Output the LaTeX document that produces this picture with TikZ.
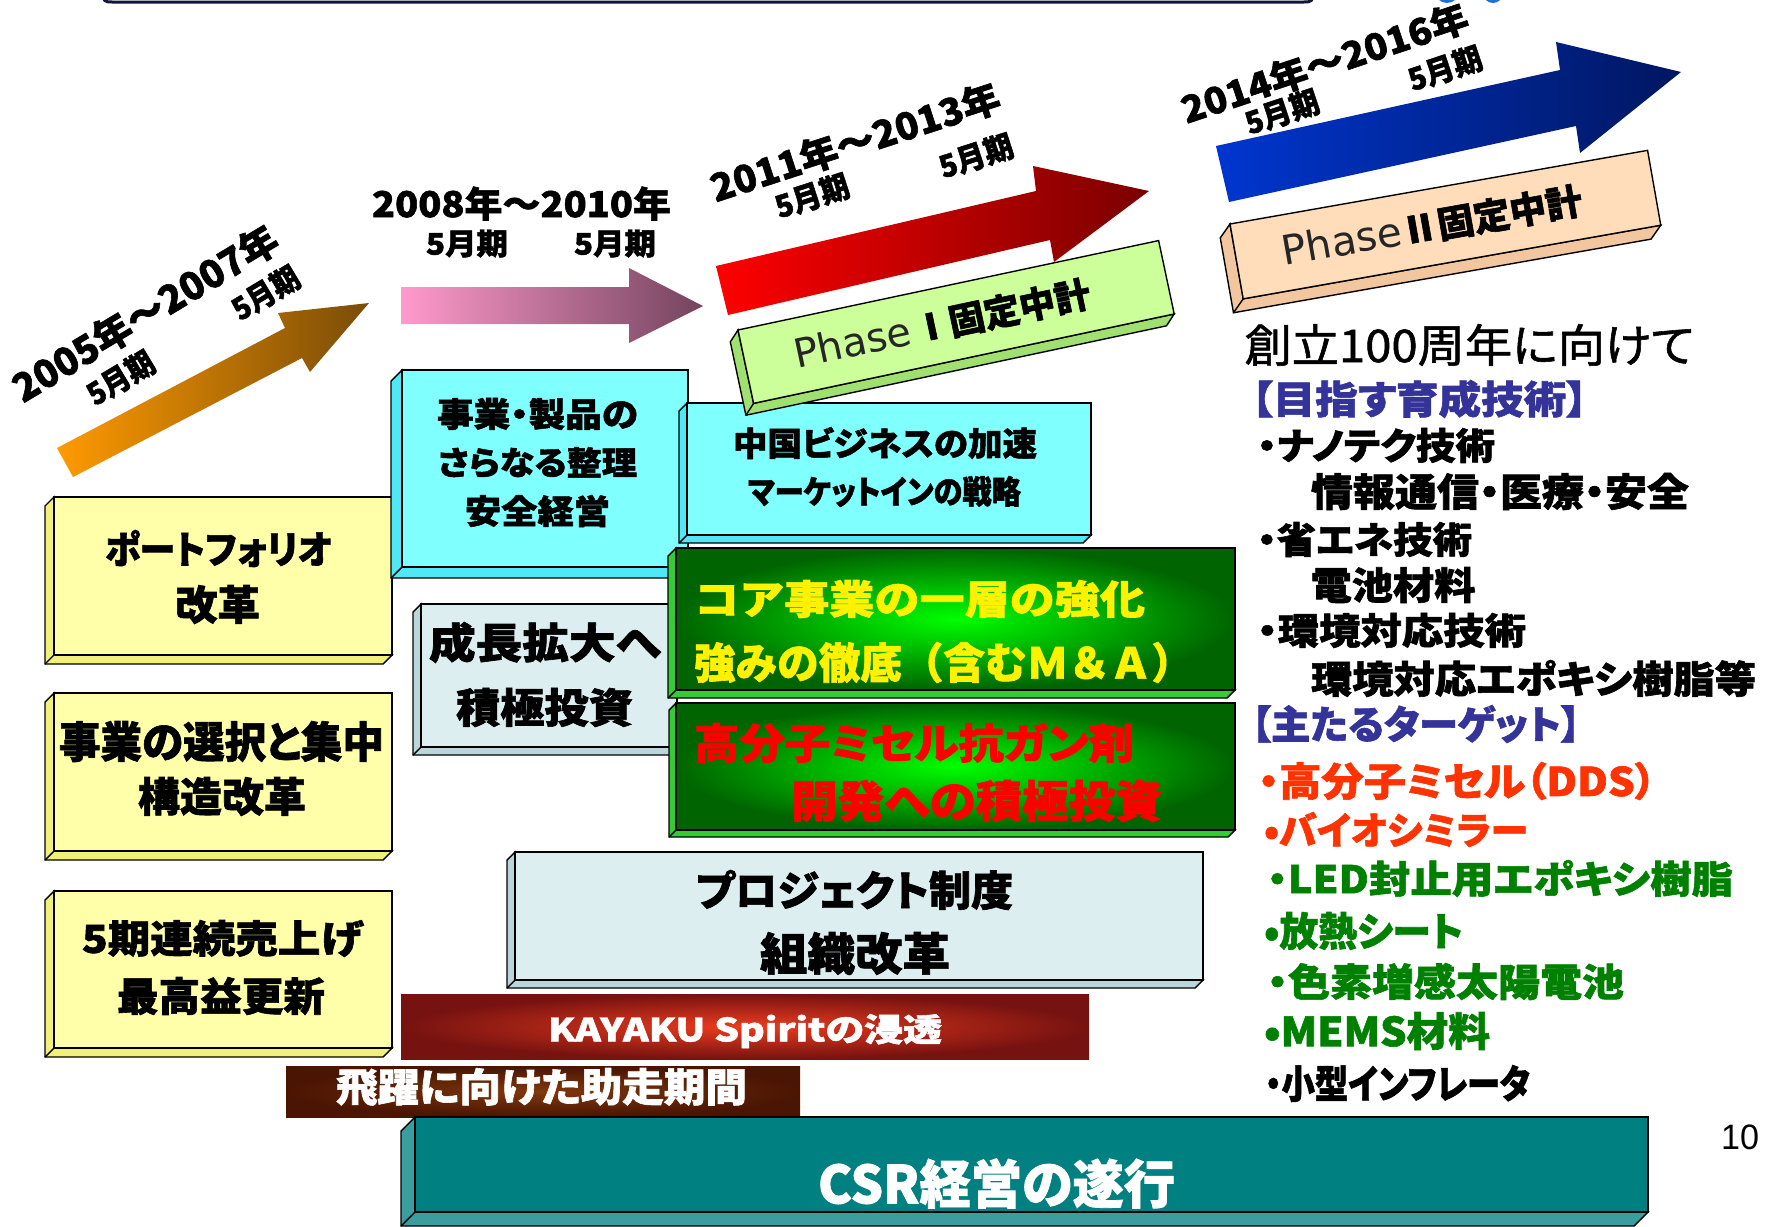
\documentclass[tikz,border=0pt]{standalone}
\usepackage{fontspec}
\usepackage{graphicx}
\newfontfamily\jp{Noto Sans CJK JP}[RawFeature=+palt, BoldFeatures={FakeBold=1.5}]
\newfontfamily\jpn{Noto Sans CJK JP}[BoldFeatures={FakeBold=1.5}]
\newfontfamily\jpm{Noto Sans CJK JP}[RawFeature=+palt, FakeBold=1.2]
\newfontfamily\dv{DejaVu Sans}
\newfontfamily\ls{Liberation Sans}
\newcommand{\fitbox}[3]{\resizebox*{#1pt}{#2pt}{#3}}
\definecolor{topline}{HTML}{14143A}
\definecolor{logoblue}{HTML}{1E6FD9}
\definecolor{orL}{HTML}{FF9A00}
\definecolor{orR}{HTML}{7A4C08}
\definecolor{pkL}{HTML}{FF9ACC}
\definecolor{pkR}{HTML}{74445E}
\definecolor{rdL}{HTML}{FF0000}
\definecolor{rdR}{HTML}{7A0000}
\definecolor{blL}{HTML}{0036D0}
\definecolor{blR}{HTML}{001660}
\definecolor{yfront}{HTML}{FFFFAA}
\definecolor{ybevel}{HTML}{F0F07A}
\definecolor{cfront}{HTML}{80FFFF}
\definecolor{cbevel}{HTML}{50E8F4}
\definecolor{gfront}{HTML}{DDEEF0}
\definecolor{gbevel}{HTML}{BBD6DA}
\definecolor{p1front}{HTML}{CCFF99}
\definecolor{p1bevel}{HTML}{A0E070}
\definecolor{p2front}{HTML}{FFDDBB}
\definecolor{p2bevel}{HTML}{F2C7A0}
\definecolor{grin}{HTML}{00FF00}
\definecolor{grout}{HTML}{006400}
\definecolor{grbevel}{HTML}{33CC33}
\definecolor{teal1}{HTML}{008080}
\definecolor{teal2}{HTML}{3A9E9E}
\definecolor{kyin}{HTML}{EC3C1E}
\definecolor{kyout}{HTML}{761210}
\definecolor{hyin}{HTML}{80380E}
\definecolor{hyout}{HTML}{4A1502}
\definecolor{tblue}{HTML}{333399}
\definecolor{tred}{HTML}{FF3300}
\definecolor{tgreen}{HTML}{008000}
\newcommand{\bevelpart}[6]{%
  \filldraw[edge, fill=#6] (#1,#2) -- ({#1-#5},{#2+#5}) -- ({#1-#5},{#4+#5}) -- ({#3-#5},{#4+#5}) -- (#3,#4) -- (#1,#4) -- cycle;
  \draw[edge] (#1,#4) -- ({#1-#5},{#4+#5});}
\begin{document}
\begin{tikzpicture}[x=1pt,y=-1pt,
  txt/.style={inner sep=0pt, outer sep=0pt},
  edge/.style={line width=1.4pt, draw=black, line join=miter}]
\useasboundingbox (0,0) rectangle (1769,1226);
\clip (0,0) rectangle (1769,1226);

% top remnants
\draw[line width=3pt, topline] (103,-12) -- (103,-6) .. controls (103,1) and (105,2) .. (112,2) -- (1304,2) .. controls (1311,2) and (1313,1) .. (1313,-6) -- (1313,-12);
\fill[logoblue] (1447,-9.5) circle (12.5);
\fill[logoblue] (1493,-7) circle (10);

% arrows
\shade[left color=orL, right color=orR] (57,448) -- (285,328) -- (278,313) -- (369,303) -- (310,372) -- (302,358) -- (73,477) -- cycle;
\shade[left color=pkL, right color=pkR] (401,287) -- (629,287) -- (629,268) -- (703,306) -- (629,343) -- (629,324) -- (401,324) -- cycle;
\shade[left color=rdL, right color=rdR] (716,266) -- (1036,191) -- (1033,166) -- (1149,191) -- (1054,262) -- (1050,240) -- (728,315) -- cycle;
\shade[left color=blL, right color=blR] (1216,146) -- (1560,70) -- (1556,42) -- (1681,72) -- (1580,153) -- (1576,126) -- (1229,202) -- cycle;

% year labels
\node[txt, rotate=31] (l1) at (145,313) {\fitbox{302}{37}{\jp\bfseries 2005年～2007年}};
\node[txt, rotate=31] (l1a) at (120.5,378) {\fitbox{73}{29}{\jp\bfseries 5月期}};
\node[txt, rotate=31] (l1b) at (265.5,293) {\fitbox{73}{29}{\jp\bfseries 5月期}};
\node[txt] (l2) at (521.5,203.5) {\fitbox{299}{34}{\jp\bfseries 2008年～2010年}};
\node[txt] (l2a) at (467,243.5) {\fitbox{82}{28}{\jp\bfseries 5月期}};
\node[txt] (l2b) at (615,243.5) {\fitbox{82}{28}{\jp\bfseries 5月期}};
\node[txt, rotate=18] (l3) at (855,142) {\fitbox{302}{36}{\jp\bfseries 2011年～2013年}};
\node[txt, rotate=18] (l3a) at (812,196) {\fitbox{76}{29}{\jp\bfseries 5月期}};
\node[txt, rotate=18] (l3b) at (976,156) {\fitbox{76}{29}{\jp\bfseries 5月期}};
\node[txt, rotate=18.5] (l4) at (1324.5,63) {\fitbox{300}{35}{\jp\bfseries 2014年～2016年}};
\node[txt, rotate=18.5] (l4a) at (1282,112) {\fitbox{76}{29}{\jp\bfseries 5月期}};
\node[txt, rotate=18.5] (l4b) at (1445,68.5) {\fitbox{76}{29}{\jp\bfseries 5月期}};

% yellow boxes
\bevelpart{54}{497}{392}{655}{9}{ybevel}
\filldraw[edge, fill=yfront] (54,497) rectangle (392,655);
\node[txt] (y1a) at (218.5,548.5) {\fitbox{227}{37}{\jp\bfseries ポートフォリオ}};
\node[txt] (y1b) at (217.5,604.5) {\fitbox{85}{39}{\jp\bfseries 改革}};
\bevelpart{54}{693}{392}{851}{9}{ybevel}
\filldraw[edge, fill=yfront] (54,693) rectangle (392,851);
\node[txt] (y2a) at (221.5,741.5) {\fitbox{325}{41}{\jp\bfseries 事業の選択と集中}};
\node[txt] (y2b) at (222,796.5) {\fitbox{168}{39}{\jp\bfseries 構造改革}};
\bevelpart{54}{891}{392}{1048}{9}{ybevel}
\filldraw[edge, fill=yfront] (54,891) rectangle (392,1048);
\node[txt] (y3a) at (222.5,938.5) {\fitbox{281}{37}{\jp\bfseries 5期連続売上げ}};
\node[txt] (y3b) at (221,996) {\fitbox{208}{38}{\jp\bfseries 最高益更新}};

% cyan boxes
\bevelpart{402}{370}{688}{567}{11}{cbevel}
\filldraw[edge, fill=cfront] (402,370) rectangle (688,567);
\node[txt] (c1a) at (537.5,414) {\fitbox{201}{32}{\jp\bfseries 事業・製品の}};
\node[txt] (c1b) at (537.5,462.5) {\fitbox{199}{31}{\jp\bfseries さらなる整理}};
\node[txt] (c1c) at (537.5,511) {\fitbox{145}{32}{\jp\bfseries 安全経営}};
\bevelpart{687}{403}{1091}{535}{8}{cbevel}
\filldraw[edge, fill=cfront] (687,403) rectangle (1091,535);
\node[txt] (c2a) at (885,443) {\fitbox{304}{32}{\jp\bfseries 中国ビジネスの加速}};
\node[txt] (c2b) at (884.5,491.5) {\fitbox{273}{31}{\jp\bfseries マーケットインの戦略}};

% Phase I box
\begin{scope}[shift={(738,330)}, rotate=12]
\bevelpart{0}{0}{430}{75}{10}{p1bevel}
\filldraw[edge, fill=p1front] (0,0) rectangle (430,75);
\end{scope}
\node[txt, rotate=12] (p1t) at (942,324) {\resizebox{302pt}{!}{{\dv\fontsize{41}{41}\selectfont\color{black!85}Phase} {\jp\bfseries\fontsize{37}{37}\selectfont Ⅰ固定中計}}};

% Phase II box
\begin{scope}[shift={(1230,224)}, rotate=10]
\bevelpart{0}{0}{424}{76}{12}{p2bevel}
\filldraw[edge, fill=p2front] (0,0) rectangle (424,76);
\end{scope}
\node[txt, rotate=10] (p2t) at (1432,226) {\resizebox{304pt}{!}{{\dv\fontsize{41}{41}\selectfont\color{black!85}Phase}{\jp\bfseries\fontsize{37}{37}\selectfont Ⅱ固定中計}}};

% grey box
\bevelpart{421}{604}{677}{747}{8}{gbevel}
\filldraw[edge, fill=gfront] (421,604) rectangle (677,747);
\node[txt] (g1a) at (545,642.5) {\fitbox{232}{41}{\jp\bfseries 成長拡大へ}};
\node[txt] (g1b) at (544.5,707.5) {\fitbox{177}{39}{\jp\bfseries 積極投資}};

% green boxes
\bevelpart{676}{548}{1235}{690}{8}{grbevel}
\shade[inner color=grin, outer color=grout] (676,548) rectangle (1235,690);
\draw[edge] (676,548) rectangle (1235,690);
\node[txt, text=yellow] (gr1a) at (919.5,599) {\fitbox{451}{38}{\jpn\bfseries コア事業の一層の強化}};
\node[txt, text=yellow] (gr1b) at (943.5,662.5) {\fitbox{499}{41}{\jpn\bfseries 強みの徹底（含むＭ＆Ａ）}};
\bevelpart{676}{703}{1235}{830}{7}{grbevel}
\shade[inner color=grin, outer color=grout] (676,703) rectangle (1235,830);
\draw[edge] (676,703) rectangle (1235,830);
\node[txt, text=red] (gr2a) at (914,743) {\fitbox{440}{40}{\jp\bfseries 高分子ミセル抗ガン剤}};
\node[txt, text=red] (gr2b) at (976.5,801) {\fitbox{371}{42}{\jp\bfseries 開発への積極投資}};

% project box
\bevelpart{515}{852}{1203}{980}{8}{gbevel}
\filldraw[edge, fill=gfront] (515,852) rectangle (1203,980);
\node[txt] (pr1) at (854.5,890) {\fitbox{317}{40}{\jp\bfseries プロジェクト制度}};
\node[txt] (pr2) at (855,953.5) {\fitbox{190}{43}{\jp\bfseries 組織改革}};

% bars
\shade[inner color=kyin, outer color=kyout] (401,994) rectangle (1089,1059);
\node[txt, text=white] (ky) at (745,1031) {\fitbox{394}{34}{\jp\bfseries KAYAKU Spiritの浸透}};
\shade[inner color=hyin, outer color=hyout] (286,1066) rectangle (800,1117);
\node[txt, text=white] (hy) at (541.5,1087) {\fitbox{411}{38}{\jp\bfseries 飛躍に向けた助走期間}};

% CSR box
\bevelpart{415}{1117}{1648}{1212}{14}{teal2}
\filldraw[edge, fill=teal1] (415,1117) rectangle (1648,1212);
\node[txt, text=white] (csr) at (996.5,1183.5) {\fitbox{357}{50}{\jp\bfseries CSR経営の遂行}};

% right text block
\node[txt] (r0) at (1469.5,345) {\fitbox{450}{42}{\jpm 創立100周年に向けて}};
\node[txt, text=tblue] (r1) at (1419.5,399) {\fitbox{336}{38}{\jp\bfseries 【目指す育成技術】}};
\node[txt] (r2) at (1376,445.5) {\fitbox{238}{35}{\jp\bfseries ・ナノテク技術}};
\node[txt] (r3) at (1500,491.5) {\fitbox{378}{37}{\jp\bfseries 情報通信・医療・安全}};
\node[txt] (r4) at (1364.5,539.5) {\fitbox{215}{35}{\jp\bfseries ・省エネ技術}};
\node[txt] (r5) at (1393,585) {\fitbox{165}{36}{\jp\bfseries 電池材料}};
\node[txt] (r6) at (1391.5,630.5) {\fitbox{269}{35}{\jp\bfseries ・環境対応技術}};
\node[txt] (r7) at (1533.5,678.5) {\fitbox{445}{37}{\jp\bfseries 環境対応エポキシ樹脂等}};
\node[txt, text=tblue] (r8) at (1416,724) {\fitbox{329}{38}{\jp\bfseries 【主たるターゲット】}};
\node[txt, text=tred] (r9) at (1457,781) {\fitbox{398}{38}{\jp\bfseries ・高分子ミセル（DDS）}};
\node[txt, text=tred] (r10) at (1396,829.5) {\fitbox{264}{35}{\jp\bfseries •バイオシミラー}};
\node[txt, text=tgreen] (r11) at (1500,878.5) {\fitbox{466}{37}{\jp\bfseries ・LED封止用エポキシ樹脂}};
\node[txt, text=tgreen] (r12) at (1363.5,931) {\fitbox{199}{38}{\jp\bfseries •放熱シート}};
\node[txt, text=tgreen] (r13) at (1445.5,981.5) {\fitbox{357}{37}{\jp\bfseries ・色素増感太陽電池}};
\node[txt, text=tgreen] (r14) at (1377,1031) {\fitbox{226}{38}{\jp\bfseries •MEMS材料}};
\node[txt] (r15) at (1397.5,1083.5) {\fitbox{265}{37}{\jp\bfseries ・小型インフレータ}};
\node[txt] (pg) at (1740,1137.5) {\fitbox{38}{25}{\ls 10}};
\end{tikzpicture}
\end{document}
